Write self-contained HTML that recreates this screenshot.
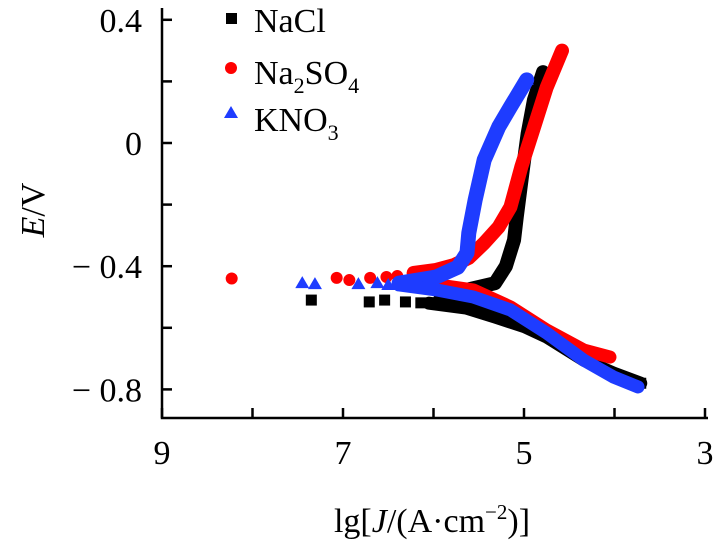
<!DOCTYPE html>
<html><head><meta charset="utf-8"><style>
body{margin:0;background:#fff;}
svg{display:block;font-family:"Liberation Serif",serif;}
</style></head><body>
<svg id="chart" width="719" height="545">
<g id="axes"></g>
<g id="series"></g>
<g>
  <rect x="226" y="13" width="11" height="11" fill="#000"/>
  <text x="254" y="32" font-size="34">NaCl</text>
  <circle cx="231" cy="68" r="6" fill="#f00"/>
  <text x="254" y="84" font-size="34">Na<tspan font-size="22" dy="9">2</tspan><tspan dy="-9">SO</tspan><tspan font-size="22" dy="9">4</tspan></text>
  <polygon points="231,106 238,118 224,118" fill="#1e3cff"/>
  <text x="254" y="131" font-size="34">KNO<tspan font-size="22" dy="9">3</tspan></text>
</g>
<text x="432" y="532" font-size="34" text-anchor="middle">lg[<tspan font-style="italic">J</tspan>/(A·cm<tspan font-size="21" dy="-13">−2</tspan><tspan dy="13">)]</tspan></text>
<text transform="translate(44,210) rotate(-90)" font-size="34" text-anchor="middle"><tspan font-style="italic">E</tspan>/V</text>
</svg>
<script>
const xTicks=[9,8,7,6,5,4,3];
const xTickLabels=["9","","7","","5","","3"];
const yTicks=[0.4,0.2,0,-0.2,-0.4,-0.6,-0.8];
const yTickLabels=["0.4","","0","","− 0.4","","− 0.8"];
const naclBand=[[5.93,-0.51],[5.64,-0.477],[5.32,-0.455],[5.20,-0.40],[5.11,-0.315],[5.08,-0.24],[5.01,-0.08],[4.96,0.03],[4.89,0.14],[4.79,0.23]];
const naclCath=[[6.05,-0.52],[5.64,-0.536],[5.32,-0.565],[4.99,-0.597],[4.75,-0.63],[4.34,-0.705],[4.01,-0.747],[3.71,-0.78]];
const naclPts=[[7.35,-0.51],[6.71,-0.516],[6.54,-0.51],[6.31,-0.516],[6.14,-0.519],[3.71,-0.78]];
const na2so4Band=[[6.22,-0.422],[5.97,-0.412],[5.77,-0.396],[5.61,-0.373],[5.44,-0.325],[5.28,-0.273],[5.15,-0.208],[5.03,-0.078],[4.91,0.032],[4.75,0.18],[4.58,0.30]];
const na2so4Cath=[[6.38,-0.45],[5.97,-0.46],[5.56,-0.477],[5.15,-0.532],[4.75,-0.607],[4.34,-0.672],[4.05,-0.695]];
const na2so4Pts=[[8.23,-0.44],[7.07,-0.438],[6.93,-0.445],[6.70,-0.438],[6.52,-0.435],[6.40,-0.432],[4.58,0.30]];
const kno3Band=[[6.38,-0.455],[5.97,-0.435],[5.73,-0.403],[5.63,-0.357],[5.61,-0.292],[5.54,-0.185],[5.44,-0.055],[5.28,0.052],[5.15,0.117],[4.97,0.205]];
const kno3Cath=[[6.38,-0.461],[5.97,-0.477],[5.56,-0.5],[5.15,-0.542],[4.75,-0.617],[4.34,-0.705],[4.01,-0.76],[3.74,-0.792]];
const kno3Pts=[[7.45,-0.455],[7.31,-0.458],[6.83,-0.458],[6.62,-0.455],[6.50,-0.461],[4.97,0.205]];

const NS="http://www.w3.org/2000/svg";
const X0=162,X1=705,Y0=418;
const sx=v=>X0+(9-v)*(X1-X0)/6;
const sy=v=>143-v*308;
const ax=document.getElementById('axes'),sg=document.getElementById('series');
function mk(tag,attrs,parent){const e=document.createElementNS(NS,tag);for(const k in attrs)e.setAttribute(k,attrs[k]);parent.appendChild(e);return e;}
let l=mk('path',{d:`M${X0},8 V${Y0} H${X1+3}`,stroke:'#000','stroke-width':2.5,fill:'none'},ax);


xTicks.forEach((t,i)=>{
  const x=sx(t);
  const tk=mk('line',{x1:x,x2:x,y1:Y0,y2:Y0-10,stroke:'#000','stroke-width':2.5},ax);
  
  
  if(xTickLabels[i]){const tx=mk('text',{x:x,y:Y0+46,'font-size':34,'text-anchor':'middle'},ax);tx.textContent=xTickLabels[i];
  
  }
});
yTicks.forEach((t,i)=>{
  const y=sy(t);
  const tk=mk('line',{x1:X0,x2:X0+10,y1:y,y2:y,stroke:'#000','stroke-width':2.5},ax);
  
  
  if(yTickLabels[i]){const tx=mk('text',{x:142,y:y+12,'font-size':34,'text-anchor':'end'},ax);tx.textContent=yTickLabels[i];
  
  }
});
function band(arr,color,name,w){
  const p=mk('polyline',{points:arr.map(d=>sx(d[0])+','+sy(d[1])).join(' '),stroke:color,'stroke-width':w,fill:'none','stroke-linejoin':'round','stroke-linecap':'round'},sg);
  
  
}
function pts(arr,color,shape,name){
  arr.forEach(d=>{const x=sx(d[0]),y=sy(d[1]);let e;
    if(shape==='sq')e=mk('rect',{x:x-5.5,y:y-5.5,width:11,height:11,fill:color},sg);
    else if(shape==='c')e=mk('circle',{cx:x,cy:y,r:6,fill:color},sg);
    else e=mk('polygon',{points:`${x},${y-7} ${x+7},${y+5} ${x-7},${y+5}`,fill:color},sg);
    
    
  });
}
band(naclBand,'#000','nacl-anodic',14);band(naclCath,'#000','nacl-cathodic',13);pts(naclPts,'#000','sq','nacl-point');
band(na2so4Band,'#f00','na2so4-anodic',14);band(na2so4Cath,'#f00','na2so4-cathodic',13);pts(na2so4Pts,'#f00','c','na2so4-point');
band(kno3Band,'#1e3cff','kno3-anodic',15);band(kno3Cath,'#1e3cff','kno3-cathodic',13);pts(kno3Pts,'#1e3cff','t','kno3-point');
</script>
</body></html>
